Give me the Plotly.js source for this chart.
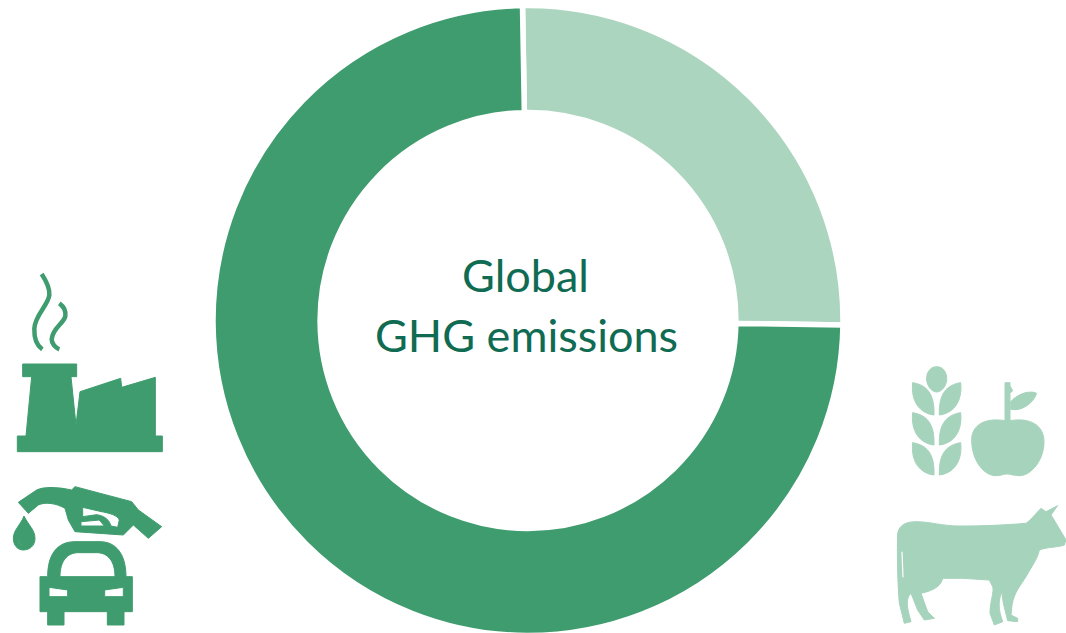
<!DOCTYPE html>
<html><head><meta charset="utf-8">
<script src="https://cdn.plot.ly/plotly-3.0.1.min.js"></script>
<style>html,body{margin:0;padding:0;background:#fff;overflow:hidden;width:1066px;height:633px}#c{width:1066px;height:640px}</style>
</head><body><div id="c"></div>
<script>
const categories = ['Agriculture and food', 'Industry and transport'];
const shares = [25.5, 74.5];
const sliceColors = ['#acd5bf', '#3f9c6e'];
const centerLines = ['Global', 'GHG emissions'];

const W = 1066, H = 640;
const DARK = '#3f9c6e', LIGHT = '#a6d3bc';

// Convert a path written in zoomed-crop coordinates to paper fractions
function toPaper(path, ox, oy, s) {
  let isX = true;
  return path.replace(/[A-Za-z]|-?\d+(\.\d+)?/g, t => {
    if (/[A-Za-z]/.test(t)) { isX = true; return t; }
    const v = parseFloat(t) / s;
    const out = isX ? (v + ox) / W : 1 - (v + oy) / H;
    isX = !isX;
    return out.toFixed(5);
  });
}
function fill(path, ox, oy, color, w) {
  return {type:'path', xref:'paper', yref:'paper', path:toPaper(path, ox, oy, 3),
          fillcolor:color, line:{color:color, width:w === undefined ? 1 : w}, layer:'above'};
}
function stroke(path, ox, oy, color, w) {
  return {type:'path', xref:'paper', yref:'paper', path:toPaper(path, ox, oy, 3),
          fillcolor:'rgba(0,0,0,0)', line:{color:color, width:w}, layer:'above'};
}

const factory = 'M68,312 L230,312 L230,350 L213,350 L228,495 L240,395 L362,355 L365,382 L466,352 L466,528 L487,528 L487,575 L52,575 L52,528 L78,528 L95,350 L68,350 Z';
const smoke1 = 'M125,42 C140,65 150,85 148,105 C145,135 105,165 103,205 C102,235 112,258 127,268';
const smoke2 = 'M178,130 C192,140 198,152 196,168 C192,190 157,205 155,238 C155,250 165,263 178,268';
const nozzle = 'M55,97 L110,60 C130,50 170,50 215,60 L225,50 L395,95 L415,120 L485,170 L445,205 L400,165 L370,195 L225,185 L205,150 L195,115 C170,100 135,95 115,105 L85,130 Z ' +
               'M248,112 L300,124 C330,130 352,135 358,150 L353,172 L333,168 C328,150 315,138 290,134 L248,140 Z M243,155 L298,150 L313,168 L243,168 Z';
const drop = 'M72,138 C85,165 105,180 105,205 C105,228 88,240 70,240 C52,240 40,225 40,205 C40,180 62,165 72,138 Z M52,200 C55,215 60,225 68,228 C60,222 56,210 52,200 Z';
const car = 'M120,320 L143,320 C143,255 170,215 225,215 L300,215 C350,215 378,255 378,320 L397,320 L397,425 L372,425 L372,465 L322,465 L322,425 L192,425 L192,465 L143,465 L143,425 L120,425 Z ' +
            'M180,320 L345,320 C345,275 325,248 290,248 L235,248 C200,248 180,275 180,320 Z M147,352 L203,360 L203,380 L147,380 Z M314,360 L370,352 L370,380 L314,380 Z';
const grain = 'M140,20 C162,20 172,42 170,60 C168,80 155,95 140,96 C125,95 112,80 110,60 C108,42 118,20 140,20 Z';
function leafL(d){return `M68,${68+d} C110,${75+d} 134,${100+d} 132,${165+d} C90,${160+d} 62,${125+d} 68,${68+d} Z`;}
function leafR(d){return `M212,${68+d} C170,${75+d} 146,${100+d} 148,${165+d} C190,${160+d} 218,${125+d} 212,${68+d} Z`;}
const apple = 'M245,240 C245,195 285,172 345,182 L345,68 L360,68 L360,78 L368,92 L360,100 L360,182 C420,172 462,195 462,245 C462,300 425,345 390,347 C370,347 362,342 352,342 C340,342 335,347 315,347 C280,345 245,300 245,240 Z';
const appleLeaf = 'M362,125 C385,100 420,90 440,100 C430,130 395,155 362,148 Z';
const cow = 'M35,130 C40,105 60,95 90,95 C130,95 170,108 220,108 C290,108 360,105 420,100 C435,90 445,75 465,55 L480,65 L515,47 L495,75 C505,90 525,125 540,150 L535,165 C520,172 485,170 460,180 C455,205 440,225 420,260 C405,285 385,305 378,345 L375,375 L395,385 L395,395 L365,392 L352,340 L347,305 C338,330 335,355 350,395 L325,405 L312,370 C312,335 325,305 320,290 L310,270 L230,265 L170,265 C165,285 150,300 105,310 L125,365 L145,385 L115,390 L95,360 L75,310 C60,325 60,345 75,395 L55,400 L40,340 C35,280 33,200 35,130 Z';
const tail = 'M48,185 L51,262';

const shapes = [
  fill(factory, 0, 260, DARK),
  stroke(smoke1, 0, 260, DARK, 4.5),
  stroke(smoke2, 0, 260, DARK, 4.5),
  fill(nozzle, 0, 470, DARK),
  fill(drop, 0, 470, DARK),
  fill(car, 0, 470, DARK),
  fill(grain, 890, 360, LIGHT),
  fill(apple, 890, 360, LIGHT),
  fill(appleLeaf, 890, 360, LIGHT),
  fill(cow, 886, 490, LIGHT),
  stroke(tail, 886, 490, '#ffffff', 1.2)
];
[0, 90, 180].forEach(d => {
  shapes.push(fill(leafL(d), 890, 360, LIGHT));
  shapes.push(fill(leafR(d), 890, 360, LIGHT));
});

const r = 315, cx = 528, cy = 320.5;
const data = [{
  type:'pie', labels:categories, values:shares, sort:false, direction:'clockwise',
  rotation:-1, hole:0.66, textinfo:'none', hoverinfo:'label+percent', showlegend:false,
  marker:{colors:sliceColors, line:{color:'#ffffff', width:5.5}},
  domain:{x:[(cx-r)/W,(cx+r)/W], y:[1-(cy+r)/H,1-(cy-r)/H]}
}];
const font = {family:'Lato, "Open Sans", sans-serif', size:45, color:'#0f6b52'};
const layout = {
  width:W, height:H, margin:{l:0,r:0,t:0,b:0}, paper_bgcolor:'#fff', showlegend:false,
  shapes:shapes,
  annotations:[
    {text:centerLines[0], xref:'paper', yref:'paper', x:525/W, y:1-275/H, xanchor:'center', yanchor:'middle', showarrow:false, font:font},
    {text:centerLines[1], xref:'paper', yref:'paper', x:526/W, y:1-335/H, xanchor:'center', yanchor:'middle', showarrow:false, font:font}
  ]
};
Plotly.newPlot('c', data, layout, {displayModeBar:false});
</script></body></html>
